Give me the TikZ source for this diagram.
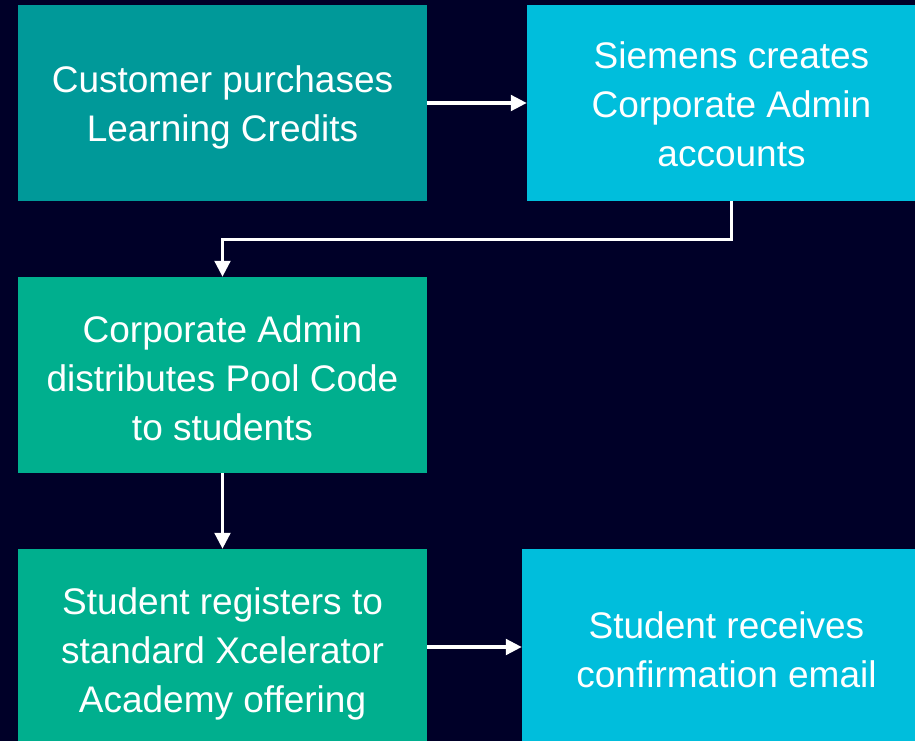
\documentclass[tikz,border=0pt]{standalone}
\usepackage{fontspec}
\setmainfont{Liberation Sans}
\usetikzlibrary{arrows.meta}
\definecolor{bgnavy}{HTML}{000028}
\definecolor{petrol}{HTML}{009999}
\definecolor{cyanbox}{HTML}{00BEDC}
\definecolor{greenbox}{HTML}{00AF8E}
\tikzset{
  stepbox/.style={minimum width=409pt, minimum height=196pt, inner sep=0pt},
  steptext/.style={inner sep=0pt, text=white, align=center,
    font=\fontsize{37}{49}\selectfont},
  flow/.style={draw=white, line width=3.6pt,
    -{Triangle[length=16pt,width=15.5pt]}}
}
\begin{document}
\begin{tikzpicture}[x=1pt,y=-1pt]
\useasboundingbox (0,0) rectangle (915,741);
\clip (0,0) rectangle (915,741);
\fill[bgnavy] (0,0) rectangle (915,741);
\node[stepbox, fill=petrol] (b1) at (222.5,103) {};
\node[stepbox, fill=cyanbox] (b2) at (731.5,103) {};
\node[stepbox, fill=greenbox] (b3) at (222.5,375) {};
\node[stepbox, fill=greenbox] (b4) at (222.5,647) {};
\node[stepbox, fill=cyanbox] (b5) at (726.5,647) {};
\node[steptext] (t1) at ([yshift=-4.5pt]b1.center) {Customer purchases\\Learning Credits};
\node[steptext] (t2) at ([yshift=-1.5pt]b2.center) {Siemens creates\\Corporate Admin\\accounts};
\node[steptext] (t3) at ([yshift=-3pt]b3.center) {Corporate Admin\\distributes Pool Code\\to students};
\node[steptext] (t4) at ([yshift=-6.5pt]b4.center) {Student registers to\\standard Xcelerator\\Academy offering};
\node[steptext] (t5) at ([yshift=-3pt]b5.center) {Student receives\\confirmation email};
\coordinate (k1) at (731.5,239.5);
\coordinate (k2) at (222.5,239.5);
\draw[flow] (b1.east) -- (b2.west);
\draw[flow] (b2.south) -- (k1) -- (k2) -- (b3.north);
\draw[flow] (b3.south) -- (b4.north);
\draw[flow] (b4.east) -- (b5.west);
\end{tikzpicture}
\end{document}
